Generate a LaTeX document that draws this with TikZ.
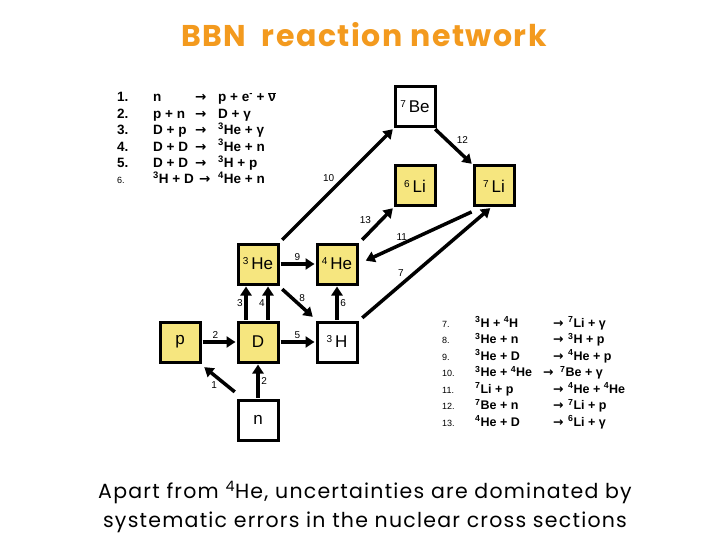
\documentclass[tikz,border=0pt]{standalone}
\usepackage{fontspec}
\setmainfont{Liberation Sans}
\newfontfamily\titlefont[LetterSpace=5]{Poppins}
\newfontfamily\notefont[LetterSpace=6]{Poppins}
\newfontfamily\symfont{DejaVu Sans}
\usetikzlibrary{arrows.meta,positioning}
\definecolor{NucYellow}{HTML}{F6E67F}
\definecolor{TitleOrange}{HTML}{F39A1E}
\newcommand{\iso}[2]{\raisebox{5pt}{\fontsize{10}{10}\selectfont #1}\,#2}
\newcommand{\up}[1]{\textsuperscript{#1}}
\newcommand{\ra}{{\symfont\bfseries →}}
\newcommand{\nubar}{$\overline{\hbox{ν}}$}
\tikzset{
  nuc/.style={draw, line width=3pt, fill=NucYellow, minimum size=40pt, inner sep=0pt,
    font=\fontsize{17}{17}\selectfont},
  nucw/.style={nuc, fill=white},
  rx/.style={line width=3.5pt, -{Triangle[length=9pt,width=11pt]}, shorten <=1pt, shorten >=1pt},
  rlab/.style={font=\fontsize{10}{10}\selectfont, inner sep=1.5pt},
  lst/.style={font=\fontsize{13.5}{13.5}\bfseries, inner sep=0pt, anchor=base west},
  rlst/.style={font=\fontsize{12.5}{12.5}\bfseries, inner sep=0pt, anchor=base west}
}

\begin{document}
\begin{tikzpicture}[x=1pt, y=-1pt]
  \useasboundingbox[fill=white] (0,0) rectangle (720,540);

  % title
  \node[font=\titlefont\bfseries\fontsize{30}{30}\selectfont, color=TitleOrange] (title) at (364,35) {BBN\ \ reaction network};

  % nuclei
  \node[nuc]  (p)   at (180,342) {p};
  \node[nuc]  (D)   at (258,342) {D};
  \node[nucw] (n)   at (258,420) {n};
  \node[nuc]  (He3) at (258,264) {\iso{3}{He}};
  \node[nuc]  (He4) at (337,264) {\iso{4}{He}};
  \node[nucw] (H3)  at (337,342) {\iso{3}{H}};
  \node[nucw] (Be7) at (415,107) {\iso{7}{Be}};
  \node[nuc]  (Li6) at (415,186) {\iso{6}{Li}};
  \node[nuc]  (Li7) at (494,186) {\iso{7}{Li}};

  % reactions
  \draw[rx] ([shift={(-1,-6)}]n.north west) -- node[rlab, below left=-1pt] {1} ([shift={(2,3)}]p.south east);
  \draw[rx] (n) -- node[rlab, right] {2} (D);
  \draw[rx] (p) -- node[rlab, above, pos=0.4] {2} (D);
  \draw[rx] ([xshift=-12pt]D.north) -- node[rlab, left] {3} ([xshift=-12pt]He3.south);
  \draw[rx] ([xshift=10pt]D.north) -- node[rlab, left] {4} ([xshift=10pt]He3.south);
  \draw[rx] (D) -- node[rlab, above] {5} (H3);
  \draw[rx] ([shift={(2,3)}]He3.south east) -- node[rlab, above right=-2pt] {8} ([shift={(-2,-3)}]H3.north west);
  \draw[rx] (He3) -- node[rlab, above] {9} (He4);
  \draw[rx] (H3) -- node[rlab, right] {6} (He4);
  \draw[rx] ([shift={(2,-2)}]He3.north east) -- node[rlab, above left, pos=0.5] {10} (Be7.south west);
  \draw[rx] ([shift={(3,-2)}]He4.north east) -- node[rlab, above left, pos=0.4] {13} (Li6.south west);
  \draw[rx, shorten >=8pt] ([yshift=-4pt]Li7.south west) -- node[rlab, above, pos=0.62] {11} (He4.east);
  \draw[rx] ([shift={(3,-2)}]H3.north east) -- node[rlab, above left, pos=0.35] {7} ([xshift=-3pt]Li7.south);
  \draw[rx] ([xshift=-2pt]Be7.south east) -- node[rlab, above right] {12} (Li7.north west);

  % reaction list, left
  \foreach \k/\lbl/\lhs/\rhs in {1/1./n/{p + e\up{-} + \nubar},
      2/2./{p + n}/{D + γ}, 3/3./{D + p}/{\up{3}He + γ},
      4/4./{D + D}/{\up{3}He + n}, 5/5./{D + D}/{\up{3}H + p},
      6/{\fontsize{9}{9}\mdseries 6.}/{\up{3}H + D}/{\up{4}He + n}} {
    \node[lst] (ln\k) at (117,{102+16.4*(\k-1)}) {\lbl};
    \node[lst] (ll\k) at (153,{102+16.4*(\k-1)}) {\lhs};
    \node[lst] (la\k) at ({\k==6 ? 199 : 195},{102+16.4*(\k-1)}) {\ra};
    \node[lst] (lr\k) at (218,{102+16.4*(\k-1)}) {\rhs};
  }

  % reaction list, right
  \foreach \k/\lhs/\rhs in {7/{\up{3}H + \up{4}H}/{\up{7}Li + γ},
      8/{\up{3}He + n}/{\up{3}H + p}, 9/{\up{3}He + D}/{\up{4}He + p},
      10/{\up{3}He + \up{4}He}/{\up{7}Be + γ}, 11/{\up{7}Li + p}/{\up{4}He + \up{4}He},
      12/{\up{7}Be + n}/{\up{7}Li + p}, 13/{\up{4}He + D}/{\up{6}Li + γ}} {
    \node[rlst, font=\fontsize{9}{9}\selectfont] (rn\k) at (442,{327+16.5*(\k-7)}) {\k.};
    \node[rlst] (rl\k) at (475,{327+16.5*(\k-7)}) {\lhs};
    \node[rlst] (ra\k) at ({\k==10 ? 543 : 553},{327+16.5*(\k-7)}) {\ra};
    \node[rlst] (rr\k) at ({\k==10 ? 560 : 568},{327+16.5*(\k-7)}) {\rhs};
  }

  % note
  \node[font=\notefont\fontsize{20.5}{29}\selectfont, align=center] (note) at (365,507)
    {Apart from \up{4}He, uncertainties are dominated by\\systematic errors in the nuclear cross sections};
\end{tikzpicture}
\end{document}
